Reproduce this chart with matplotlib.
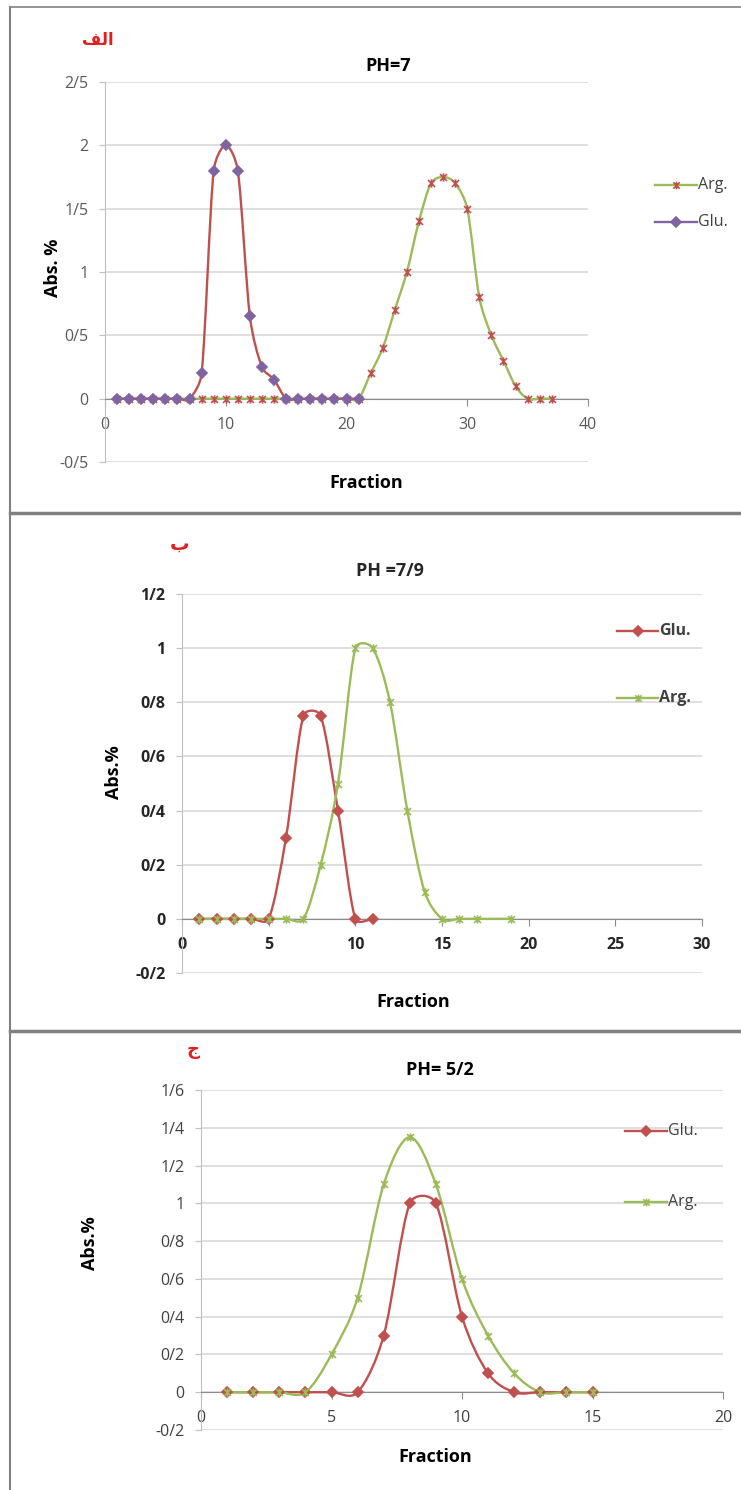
import matplotlib
matplotlib.use('Agg')
import matplotlib.pyplot as plt
import numpy as np
from matplotlib.path import Path
from matplotlib.patches import PathPatch
from matplotlib.lines import Line2D
from matplotlib.ticker import FuncFormatter, MultipleLocator

plt.rcParams['font.family'] = ['Open Sans', 'DejaVu Sans']

W, H = 741, 1490

# ---------------- data ----------------
# panel 1 : PH=7
frac1_arg = [1, 2, 3, 4, 5, 6, 7, 8, 9, 10, 11, 12, 13, 14, 15, 16, 17, 18, 19,
             20, 21, 22, 23, 24, 25, 26, 27, 28, 29, 30, 31, 32, 33, 34, 35, 36, 37]
arg1 = [0, 0, 0, 0, 0, 0, 0, 0, 0, 0, 0, 0, 0, 0, 0, 0, 0, 0, 0,
        0, 0, 0.2, 0.4, 0.7, 1.0, 1.4, 1.7, 1.75, 1.7, 1.5, 0.8, 0.5, 0.3, 0.1, 0, 0, 0]
frac1_glu = [1, 2, 3, 4, 5, 6, 7, 8, 9, 10, 11, 12, 13, 14, 15, 16, 17, 18, 19, 20, 21]
glu1 = [0, 0, 0, 0, 0, 0, 0, 0.2, 1.8, 2.0, 1.8, 0.65, 0.25, 0.15, 0, 0, 0, 0, 0, 0, 0]

# panel 2 : PH =7/9
frac2_glu = [1, 2, 3, 4, 5, 6, 7, 8, 9, 10, 11]
glu2 = [0, 0, 0, 0, 0, 0.3, 0.75, 0.75, 0.4, 0, 0]
frac2_arg = [1, 2, 3, 4, 5, 6, 7, 8, 9, 10, 11, 12, 13, 14, 15, 16, 17, 19]
arg2 = [0, 0, 0, 0, 0, 0, 0, 0.2, 0.5, 1.0, 1.0, 0.8, 0.4, 0.1, 0, 0, 0, 0]

# panel 3 : PH= 5/2
frac3 = [1, 2, 3, 4, 5, 6, 7, 8, 9, 10, 11, 12, 13, 14, 15]
glu3 = [0, 0, 0, 0, 0, 0, 0.3, 1.0, 1.0, 0.4, 0.1, 0, 0, 0, 0]
arg3 = [0, 0, 0, 0, 0.2, 0.5, 1.1, 1.35, 1.1, 0.6, 0.3, 0.1, 0, 0, 0]

RED = '#C0504D'
GREEN = '#9BBB59'
PURPLE = '#8064A2'

# excel style "star" marker : x with a vertical bar
STAR = Path([(-1, -1), (1, 1), (-1, 1), (1, -1), (0, -1.2), (0, 1.2)],
            [Path.MOVETO, Path.LINETO, Path.MOVETO, Path.LINETO, Path.MOVETO, Path.LINETO])


def fxy(px, py):
    return px / W, 1 - py / H


def smooth_path(ax, x, y):
    # excel-like smoothed line: bezier built in screen space, control arms capped
    pos = ax.get_position()
    x0, x1 = ax.get_xlim()
    y0, y1 = ax.get_ylim()
    sx = pos.width * W / (x1 - x0)
    sy = pos.height * H / (y1 - y0)
    pts = np.column_stack([np.asarray(x, float) * sx, np.asarray(y, float) * sy])
    n = len(pts)
    verts = [pts[0]]
    codes = [Path.MOVETO]
    for i in range(n - 1):
        p0 = pts[max(i - 1, 0)]
        p1 = pts[i]
        p2 = pts[i + 1]
        p3 = pts[min(i + 2, n - 1)]
        seg = np.hypot(*(p2 - p1))
        t1 = (p2 - p0) / 6
        t2 = (p3 - p1) / 6
        cap = 0.42 * seg
        for t in (t1, t2):
            ln = np.hypot(*t)
            if ln > cap:
                t *= cap / ln
        verts += [p1 + t1, p2 - t2, p2]
        codes += [Path.CURVE4] * 3
    verts = np.array(verts)
    verts[:, 0] /= sx
    verts[:, 1] /= sy
    return Path(verts, codes)


def series(ax, x, y, lcolor, mcolor, marker, ms=6):
    ax.add_patch(PathPatch(smooth_path(ax, x, y), fill=False, edgecolor=lcolor, lw=1.7, zorder=3))
    ax.plot(x, y, ls='none', marker=marker, ms=ms, mfc=mcolor, mec=mcolor, mew=1.2, zorder=4)


def yfmt(v, pos):
    if abs(v) < 1e-9:
        v = 0
    return ('%g' % round(v, 2)).replace('.', '/')


def setup(ax, xmax, xstep, ymin, ymax, ystep, tcolor, tweight):
    ax.set_xlim(0, xmax)
    ax.set_ylim(ymin, ymax)
    ax.xaxis.set_major_locator(MultipleLocator(xstep))
    ax.yaxis.set_major_locator(MultipleLocator(ystep))
    ax.yaxis.set_major_formatter(FuncFormatter(yfmt))
    ax.spines['top'].set_visible(False)
    ax.spines['right'].set_visible(False)
    ax.spines['bottom'].set_position(('data', 0))
    ax.spines['bottom'].set_color('#8c8c8c')
    ax.spines['left'].set_color('#bfbfbf')
    ax.grid(axis='y', color='#d9d9d9', lw=1.2)
    ax.set_axisbelow(True)
    ax.tick_params(axis='x', direction='out', length=5, color='#8c8c8c', pad=8,
                   labelsize=11.5, labelcolor=tcolor)
    ax.tick_params(axis='y', direction='out', length=4, color='#bfbfbf', pad=8,
                   labelsize=11.5, labelcolor=tcolor)
    for lab in ax.get_xticklabels() + ax.get_yticklabels():
        lab.set_fontweight(tweight)
    ax.patch.set_alpha(0)


def legend_entry(fig, px0, px1, py, label, lcolor, mcolor, marker, weight):
    x0, y = fxy(px0, py)
    x1, _ = fxy(px1, py)
    fig.add_artist(Line2D([x0, (x0 + x1) / 2, x1], [y, y, y], transform=fig.transFigure,
                          color=lcolor, lw=1.7, marker=marker, markevery=[1],
                          mfc=mcolor, mec=mcolor, ms=5.5, mew=1.2))
    fig.text(x1 + 1 / W, y, label, ha='left', va='center', fontsize=11.5,
             fontweight=weight, color='#404040')


def axes_px(fig, left, right, top, bottom):
    return fig.add_axes([left / W, 1 - bottom / H, (right - left) / W, (bottom - top) / H])


fig = plt.figure(figsize=(W / 100, H / 100), dpi=100)

# ---------------- panel 1 ----------------
ax1 = axes_px(fig, 105, 588, 82, 462)
setup(ax1, 40, 10, -0.5, 2.5, 0.5, '#595959', 'normal')
series(ax1, frac1_arg, arg1, GREEN, RED, STAR)
series(ax1, frac1_glu, glu1, RED, PURPLE, 'D', ms=5.5)
fig.text(*fxy(388, 66), 'PH=7', ha='center', va='center', fontsize=13, fontweight='bold')
fig.text(*fxy(53, 268), 'Abs. %', ha='center', va='center', rotation=90, fontsize=13, fontweight='bold')
fig.text(*fxy(366, 483), 'Fraction', ha='center', va='center', fontsize=13, fontweight='bold')
fig.text(*fxy(98, 40), '\ufed2\ufedf\ufe8d', ha='center', va='center', fontsize=12,
         fontweight='bold', color='#e02020')
legend_entry(fig, 655, 697, 185, 'Arg.', GREEN, RED, STAR, 'normal')
legend_entry(fig, 655, 697, 222, 'Glu.', PURPLE, PURPLE, 'D', 'normal')

# ---------------- panel 2 ----------------
ax2 = axes_px(fig, 182, 702, 594, 973)
setup(ax2, 30, 5, -0.2, 1.2, 0.2, '#262626', 'bold')
series(ax2, frac2_glu, glu2, RED, RED, 'D', ms=5.5)
series(ax2, frac2_arg, arg2, GREEN, GREEN, STAR)
fig.text(*fxy(390, 571), 'PH =7/9', ha='center', va='center', fontsize=13, fontweight='bold',
         color='#262626')
fig.text(*fxy(114, 772), 'Abs.%', ha='center', va='center', rotation=90, fontsize=13, fontweight='bold')
fig.text(*fxy(413, 1002), 'Fraction', ha='center', va='center', fontsize=13, fontweight='bold')
fig.text(*fxy(180, 545), '\u0628', ha='center', va='center', fontsize=14,
         fontweight='bold', color='#e02020')
legend_entry(fig, 617, 658, 631, 'Glu.', RED, RED, 'D', 'bold')
legend_entry(fig, 617, 658, 698, 'Arg.', GREEN, GREEN, STAR, 'bold')

# ---------------- panel 3 ----------------
ax3 = axes_px(fig, 201, 723, 1090, 1430)
setup(ax3, 20, 5, -0.2, 1.6, 0.2, '#404040', 'normal')
series(ax3, frac3, glu3, RED, RED, 'D', ms=5.5)
series(ax3, frac3, arg3, GREEN, GREEN, STAR)
fig.text(*fxy(440, 1070), 'PH= 5/2', ha='center', va='center', fontsize=13, fontweight='bold')
fig.text(*fxy(90, 1243), 'Abs.%', ha='center', va='center', rotation=90, fontsize=13, fontweight='bold')
fig.text(*fxy(435, 1457), 'Fraction', ha='center', va='center', fontsize=13, fontweight='bold')
fig.text(*fxy(193, 1050), '\u062c', ha='center', va='center', fontsize=13,
         fontweight='bold', color='#e02020')
legend_entry(fig, 625, 667, 1131, 'Glu.', RED, RED, 'D', 'normal')
legend_entry(fig, 625, 667, 1202, 'Arg.', GREEN, GREEN, STAR, 'normal')

# ---------------- panel frames ----------------
frame = dict(transform=fig.transFigure, color='#808080')
fig.add_artist(Line2D([fxy(10, 0)[0], 1], [fxy(0, 7)[1]] * 2, lw=1.2, **frame))
fig.add_artist(Line2D([fxy(10, 0)[0]] * 2, [fxy(0, 7)[1], 0], lw=1.5, **frame))
fig.add_artist(Line2D([fxy(10, 0)[0], 1], [fxy(0, 513)[1]] * 2, lw=2.5, **frame))
fig.add_artist(Line2D([fxy(10, 0)[0], 1], [fxy(0, 1031)[1]] * 2, lw=2.5, **frame))

fig.savefig('out.png', dpi=100)
